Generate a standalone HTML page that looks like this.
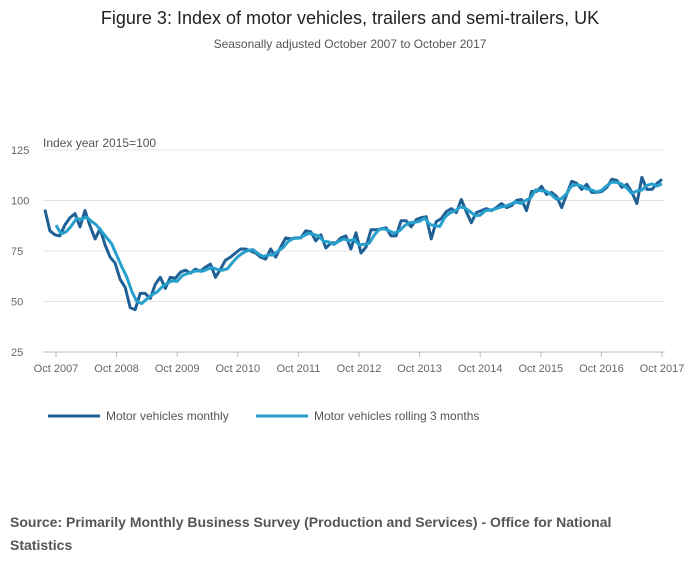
<!DOCTYPE html>
<html><head><meta charset="utf-8"><style>
body{margin:0;background:#fff;font-family:"Liberation Sans","DejaVu Sans",sans-serif;}
</style></head><body>
<svg width="700" height="574" viewBox="0 0 700 574" xmlns="http://www.w3.org/2000/svg" font-family="Liberation Sans, DejaVu Sans, sans-serif">
<text x="350" y="24" text-anchor="middle" font-size="18" fill="#222">Figure 3: Index of motor vehicles, trailers and semi-trailers, UK</text>
<text x="350" y="48" text-anchor="middle" font-size="12" fill="#555">Seasonally adjusted October 2007 to October 2017</text>
<g id="grid"></g>
<g id="yticks"></g>
<g id="xticks"></g>
<text x="43" y="147" font-size="12" fill="#555">Index year 2015=100</text>
<g id="series"></g>
<g>
<line x1="48" y1="416" x2="100" y2="416" stroke="#206095" stroke-width="3"/>
<text x="106" y="420" font-size="12" fill="#555">Motor vehicles monthly</text>
<line x1="256" y1="416" x2="308" y2="416" stroke="#27a0cc" stroke-width="3"/>
<text x="314" y="420" font-size="12" fill="#555">Motor vehicles rolling 3 months</text>
</g>
<text x="10" y="527" font-size="14" font-weight="bold" fill="#555">Source: Primarily Monthly Business Survey (Production and Services) - Office for National</text>
<text x="10" y="550" font-size="14" font-weight="bold" fill="#555">Statistics</text>
</svg>
<script>
const yTicks=[25,50,75,100,125];
const xLabels=["Oct 2007","Oct 2008","Oct 2009","Oct 2010","Oct 2011","Oct 2012","Oct 2013","Oct 2014","Oct 2015","Oct 2016","Oct 2017"];
const monthly=[95.5,85,83,82.5,88,91.5,93.5,87,95,87.5,
81,86,78,72,69,61,57,47,46,54,
54,51.5,58.5,62,56.5,62,61.5,64.5,65.5,64,
66,65,67,68.5,62,66,70.5,72,74,76,
76,75,74,72,71,76,72,77,81.5,81,
81.5,81.5,85,84.5,80,83,76.5,79,79,81.5,
82.5,76,84,74,77,85.5,85.5,86,86.5,82.5,
82.5,90,90,87,90.5,91.5,92,81,89.5,91,
94.5,96,94,100.5,94.5,89,94,95,96,95,
96.5,98.5,96.5,97.5,100,100.5,95,104.5,104.5,107,
103,104,102,96.5,103,109.5,108.5,105.5,108,104,
104,104.5,106.5,110.5,110,106.5,108,104,98.5,111.5,
105.5,105.5,108.5,110.5];
const rolling=[87.8,83.5,84.5,87.3,91,90.7,91.8,89.8,87.8,84.8,81.7,78.7,73,67.3,62.3,55,50,49,51.3,53.2,54.7,57.3,59,60.2,60,62.8,63.8,64.7,65.2,65,66,66.8,65.8,65.5,66.3,69.5,72.2,74,75.3,75.7,73.7,72.3,73,73,75,76.8,79.8,81.3,81.3,82.5,83.7,83.2,82.5,79.8,79.5,78.2,79.8,81,80,80.8,78,78.3,78.8,82.7,85.7,86,85,83.8,85,87.5,89,89.2,89.7,91.3,88.2,87.5,87.2,91.7,93.8,94.8,96.8,96.3,94.5,92.5,92.7,95,95.3,95.8,96.7,97.2,98.2,99.3,98.5,100,101.3,105.3,104.8,104.7,103,100.8,100.8,103,107,107.8,107.3,105.8,105.3,104.2,105,107.2,109,109,108.2,106.2,103.5,104.7,105.2,107.5,108.2,107.2,108.2];
const NS="http://www.w3.org/2000/svg";
const x0=56,x1=662,yTop=150,yBot=352;
function xm(m){return x0+(x1-x0)*m/120;}
function yv(v){return yBot-(v-25)/100*(yBot-yTop);}
const grid=document.getElementById('grid'),yt=document.getElementById('yticks'),xt=document.getElementById('xticks');
yTicks.forEach(v=>{
 const l=document.createElementNS(NS,'line');
 l.setAttribute('x1',43);l.setAttribute('x2',665);l.setAttribute('y1',yv(v));l.setAttribute('y2',yv(v));
 l.setAttribute('stroke',v===25?'#bbb':'#e4e4e4');l.setAttribute('stroke-width',1);
 
 
 grid.appendChild(l);
 const t=document.createElementNS(NS,'text');
 t.setAttribute('x',11);t.setAttribute('y',yv(v)+4);t.setAttribute('font-size',11);t.setAttribute('fill','#666');
 t.textContent=v;
 
 
 yt.appendChild(t);
});
xLabels.forEach((s,i)=>{
 const x=xm(i*12);
 const l=document.createElementNS(NS,'line');
 l.setAttribute('x1',x);l.setAttribute('x2',x);l.setAttribute('y1',yBot);l.setAttribute('y2',yBot+5);l.setAttribute('stroke','#bbb');
 
 
 xt.appendChild(l);
 const t=document.createElementNS(NS,'text');
 t.setAttribute('x',x);t.setAttribute('y',yBot+20);t.setAttribute('font-size',11);t.setAttribute('fill','#666');t.setAttribute('text-anchor','middle');
 t.textContent=s;
 
 
 xt.appendChild(t);
});
function drawLine(arr,color,name,startMonth){
 const step=(120-startMonth)/(arr.length-1);
 const d=arr.map((v,i)=>(i?'L':'M')+xm(startMonth+i*step).toFixed(1)+','+yv(v).toFixed(1)).join(' ');
 const p=document.createElementNS(NS,'path');
 p.setAttribute('d',d);p.setAttribute('fill','none');p.setAttribute('stroke',color);p.setAttribute('stroke-width',3);p.setAttribute('stroke-linejoin','round');
 
 
 document.getElementById('series').appendChild(p);
}
drawLine(monthly,'#206095','monthly-line',-2.2);
drawLine(rolling,'#27a0cc','rolling-3-month-line',0);
</script>
</body></html>
